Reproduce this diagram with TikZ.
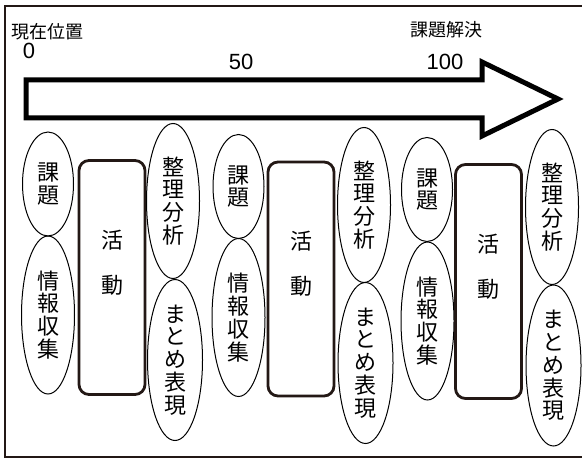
\documentclass[tikz,border=0pt]{standalone}
\usepackage{fontspec}
\setmainfont{Liberation Sans}
\newfontfamily\jp{Noto Sans CJK JP}
\usetikzlibrary{shapes.geometric}
\definecolor{FrameBlack}{HTML}{231815}
\newcommand{\drawshort}{\node[draw,ellipse,inner sep=0,line width=0.5pt,minimum width=25.5pt,minimum height=52pt,align=center,font=\jp\fontsize{11}{11.4}\selectfont]}
\newcommand{\drawtall}{\node[draw,ellipse,inner sep=0,line width=0.5pt,minimum width=26.5pt,minimum height=79pt,align=center,font=\jp\fontsize{11}{11.4}\selectfont]}
\newcommand{\drawact}{\node[draw=FrameBlack,rectangle,rounded corners=5pt,line width=1.4pt,minimum width=33pt,minimum height=117pt,text depth=16pt,align=center,font=\jp\fontsize{11}{11.4}\selectfont]}
\newcommand{\drawlabel}{\node[inner sep=0]}

\begin{document}
\begin{tikzpicture}[x=0.5pt,y=-0.5pt]
\path[use as bounding box] (0,0) rectangle (582,459);
%frame, open on the right
\draw[FrameBlack,line width=1pt] (582,6) -- (5,6) -- (5,457) -- (582,457);

%big arrow
\draw[line width=2.5pt,line join=miter] (26,80) -- (482,80) -- (482,62) -- (558,99)
  -- (482,136) -- (482,118) -- (26,118) -- cycle;

\drawlabel (now) at (47,32) {\jp\fontsize{9}{9}\selectfont 現在位置};
\drawlabel (goal) at (446,30) {\jp\fontsize{9}{9}\selectfont 課題解決};
\drawlabel (zero) at (29,51) {\fontsize{11}{11}\selectfont 0};
\drawlabel (fifty) at (241,62) {\fontsize{11}{11}\selectfont 50};
\drawlabel (hundred) at (445,62) {\fontsize{11}{11}\selectfont 100};

%first cycle
\drawshort (kadai1) at (48,184) {課\\題};
\drawtall (joho1) at (48,315) {情\\報\\収\\集};
\drawact (katsu1) at (112,277.5) {活\\[11pt]動};
\drawtall (seiri1) [minimum height=77.5pt] at (173,201) {整\\理\\分\\析};
\drawtall (matome1) [minimum width=27.5pt,minimum height=80.5pt] at (175,360) {ま\\と\\め\\表\\現};

%second cycle
\drawshort (kadai2) at (238.5,186.5) {課\\題};
\drawtall (joho2) at (238.5,317.5) {情\\報\\収\\集};
\drawact (katsu2) at (301,279) {活\\[11pt]動};
\drawtall (seiri2) [minimum height=77.5pt] at (364,205) {整\\理\\分\\析};
\drawtall (matome2) [minimum width=27.5pt,minimum height=80.5pt] at (365.5,363) {ま\\と\\め\\表\\現};

%third cycle
\drawshort (kadai3) at (427,189.5) {課\\題};
\drawtall (joho3) at (427.5,321) {情\\報\\収\\集};
\drawact (katsu3) at (488.5,281.5) {活\\[11pt]動};
\drawtall (seiri3) [minimum height=77.5pt] at (552,207) {整\\理\\分\\析};
\drawtall (matome3) [minimum width=27.5pt,minimum height=80.5pt] at (553.5,365.5) {ま\\と\\め\\表\\現};

\end{tikzpicture}
\end{document}
